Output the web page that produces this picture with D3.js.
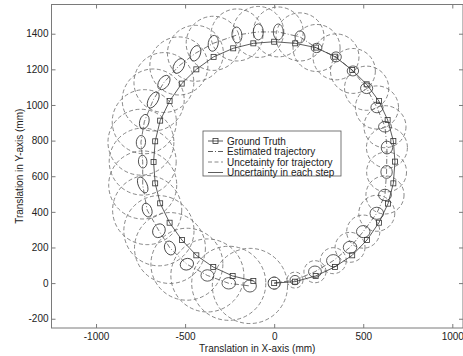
<!DOCTYPE html>
<html>
<head>
<meta charset="utf-8">
<script src="https://cdn.jsdelivr.net/npm/d3@7"></script>
<style>
  body { margin: 0; background: #fff; }
  svg { display: block; font-family: "Liberation Sans", Arial, sans-serif; }
</style>
</head>
<body>
<div id="chart"><svg width="463" height="356"></svg></div>
<script>
// ground truth positions (mm)
const gtX = [0, 117, 233, 341, 438, 521, 588, 639, 669, 678, 669, 637, 588, 519, 438, 341, 235, 118,
             0, -117, -230, -340, -437, -519, -587, -640, -668, -677, -668, -640, -587, -518, -437, -342, -233, -117];
const gtY = [0, 8, 40, 91, 156, 242, 339, 446, 560, 682, 798, 916, 1022, 1116, 1196, 1271, 1322, 1346,
             1355, 1346, 1318, 1270, 1200, 1120, 1022, 912, 796, 680, 560, 448, 339, 242, 156, 90, 40, 12];

// estimated positions (mm)
const estX = [0, 117, 229, 332, 426, 500, 576, 622, 631, 633, 622, 577, 519, 442, 347, 238, 145, 23,
              -89, -209, -342, -442, -535, -619, -679, -729, -748, -738, -738, -713, -647, -585, -490, -375, -255, -136];
const estY = [0, 17, 64, 126, 201, 289, 392, 495, 624, 761, 878, 986, 1094, 1191, 1270, 1320, 1382, 1410,
              1410, 1393, 1346, 1290, 1219, 1126, 1028, 906, 791, 682, 551, 410, 294, 197, 106, 43, -1, -16];

// radius of trajectory uncertainty (mm)
const trajR = [34, 45, 62, 73, 84, 93, 101, 107, 112, 115, 118, 121, 124, 126, 129, 132, 135, 140,
               143, 146, 152, 157, 163, 168, 174, 180, 185, 188, 191, 194, 197, 199, 202, 205, 208, 211];

// per-step uncertainty ellipse: semi axes (mm) and angle (deg)
const stepA = [34, 28, 36, 38, 38, 38, 38, 36, 36, 36, 36, 34, 34, 32, 30, 30, 34, 45,
               45, 45, 45, 45, 45, 45, 50, 42, 38, 36, 48, 40, 40, 40, 38, 36, 38, 36];
const stepB = [34, 26, 32, 34, 34, 34, 34, 32, 32, 32, 30, 30, 30, 28, 28, 26, 28, 28,
               28, 28, 28, 28, 28, 28, 26, 26, 26, 24, 24, 26, 34, 30, 32, 32, 32, 34];
const stepAng = [0, 0, 0, 0, 0, 0, 0, 0, 90, 90, 0, 0, 0, 0, 0, 0, 90, 90,
                 90, 95, 80, 70, 60, 55, 60, 75, 85, 95, 115, 110, 60, 110, 20, 0, 0, 0];

const xTicks = [-1000, -500, 0, 500, 1000];
const yTicks = [-200, 0, 200, 400, 600, 800, 1000, 1200, 1400];
const legendLabels = ["Ground Truth", "Estimated trajectory", "Uncetainty for trajectory", "Uncertainty in each step"];

const svg = d3.select("#chart svg");
const mLeft = 51.5, mRight = 463, mTop = 4.5, mBottom = 328;

const x = d3.scaleLinear().domain([-1250, 1060]).range([mLeft, mRight]);
const y = d3.scaleLinear().domain([-252, 1564]).range([mBottom, mTop]);
const k = x(1) - x(0);

const axisColor = "#7a7a7a";
const textColor = "#222";

svg.append("defs").append("clipPath").attr("id", "clip")
    .append("rect").attr("x", mLeft).attr("y", mTop)
    .attr("width", mRight - mLeft).attr("height", mBottom - mTop);

const plot = svg.append("g").attr("clip-path", "url(#clip)");

const idx = d3.range(estX.length);

// trajectory uncertainty circles
plot.selectAll("circle.traj").data(idx).join("circle")
    .attr("class", "traj")
    .attr("cx", i => x(estX[i]))
    .attr("cy", i => y(estY[i]))
    .attr("r", i => trajR[i] * k)
    .attr("fill", "none")
    .attr("stroke", "#6a6a6a")
    .attr("stroke-width", 0.8)
    .attr("stroke-dasharray", "4,2.5");

// estimated trajectory
const line = d3.line().x(i => x(estX[i])).y(i => y(estY[i]));
plot.append("path")
    .attr("d", line(idx))
    .attr("fill", "none")
    .attr("stroke", "#555")
    .attr("stroke-width", 0.8)
    .attr("stroke-dasharray", "5,2,1,2");

// ground truth
const gtLine = d3.line().x(i => x(gtX[i])).y(i => y(gtY[i]));
plot.append("path")
    .attr("d", gtLine(idx))
    .attr("fill", "none")
    .attr("stroke", "#333")
    .attr("stroke-width", 0.8);

plot.selectAll("rect.gt").data(idx).join("rect")
    .attr("class", "gt")
    .attr("x", i => x(gtX[i]) - 2.5)
    .attr("y", i => y(gtY[i]) - 2.5)
    .attr("width", 5)
    .attr("height", 5)
    .attr("fill", "none")
    .attr("stroke", "#333")
    .attr("stroke-width", 0.8);

// per-step ellipses
plot.selectAll("ellipse.step").data(idx).join("ellipse")
    .attr("class", "step")
    .attr("cx", 0).attr("cy", 0)
    .attr("rx", i => stepA[i] * k)
    .attr("ry", i => stepB[i] * k)
    .attr("transform", i => `translate(${x(estX[i])},${y(estY[i])}) rotate(${-stepAng[i]})`)
    .attr("fill", "none")
    .attr("stroke", "#333")
    .attr("stroke-width", 0.8);

// axes (ticks inward, box on)
const styleAxis = g => {
    g.select(".domain").remove();
    g.selectAll(".tick line").attr("stroke", axisColor);
    g.selectAll(".tick text").attr("fill", textColor).attr("font-size", 10)
        .attr("font-family", "Liberation Sans, Arial, sans-serif");
};

svg.append("g").attr("transform", `translate(0,${mBottom})`)
    .call(d3.axisBottom(x).tickValues(xTicks).tickSize(-4).tickPadding(4.5).tickFormat(d3.format("d")))
    .call(styleAxis);
svg.append("g").attr("transform", `translate(0,${mTop})`)
    .call(d3.axisTop(x).tickValues(xTicks).tickSize(-4).tickFormat(""))
    .call(styleAxis);
svg.append("g").attr("transform", `translate(${mLeft},0)`)
    .call(d3.axisLeft(y).tickValues(yTicks).tickSize(-4).tickPadding(3).tickFormat(d3.format("d")))
    .call(styleAxis);
svg.append("g").attr("transform", `translate(${mRight},0)`)
    .call(d3.axisRight(y).tickValues(yTicks).tickSize(-4).tickFormat(""))
    .call(styleAxis);

svg.selectAll("text").filter(function () { return this.textContent.startsWith("−"); })
    .text(function () { return this.textContent.replace("−", "-"); });

svg.append("rect")
    .attr("x", mLeft).attr("y", mTop)
    .attr("width", mRight - mLeft).attr("height", mBottom - mTop)
    .attr("fill", "none").attr("stroke", axisColor).attr("stroke-width", 1);

// axis titles
svg.append("text")
    .attr("x", (mLeft + mRight) / 2).attr("y", 352)
    .attr("text-anchor", "middle").attr("font-size", 10).attr("fill", textColor)
    .text("Translation in X-axis (mm)");
svg.append("text")
    .attr("transform", `translate(23,${(mTop + mBottom) / 2}) rotate(-90)`)
    .attr("text-anchor", "middle").attr("font-size", 10).attr("fill", textColor)
    .text("Translation in Y-axis (mm)");

// legend
const lg = svg.append("g").attr("transform", "translate(203,131)");
lg.append("rect").attr("width", 138).attr("height", 45)
    .attr("fill", "#fff").attr("stroke", "#555").attr("stroke-width", 0.8);

const dashes = [null, "5,2,1,2", "4,2.5", null];
legendLabels.forEach((label, j) => {
    const ly = 10 + j * 10.5;
    lg.append("line")
        .attr("x1", 5).attr("x2", 20).attr("y1", ly).attr("y2", ly)
        .attr("stroke", j === 2 ? "#6a6a6a" : "#333").attr("stroke-width", 0.8)
        .attr("stroke-dasharray", dashes[j]);
    if (j === 0) {
        lg.append("rect").attr("x", 10).attr("y", ly - 2.5).attr("width", 5).attr("height", 5)
            .attr("fill", "none").attr("stroke", "#333").attr("stroke-width", 0.8);
    }
    lg.append("text")
        .attr("x", 24).attr("y", ly).attr("dy", "0.35em")
        .attr("font-size", 10).attr("fill", textColor)
        .text(label);
});
</script>
</body>
</html>
